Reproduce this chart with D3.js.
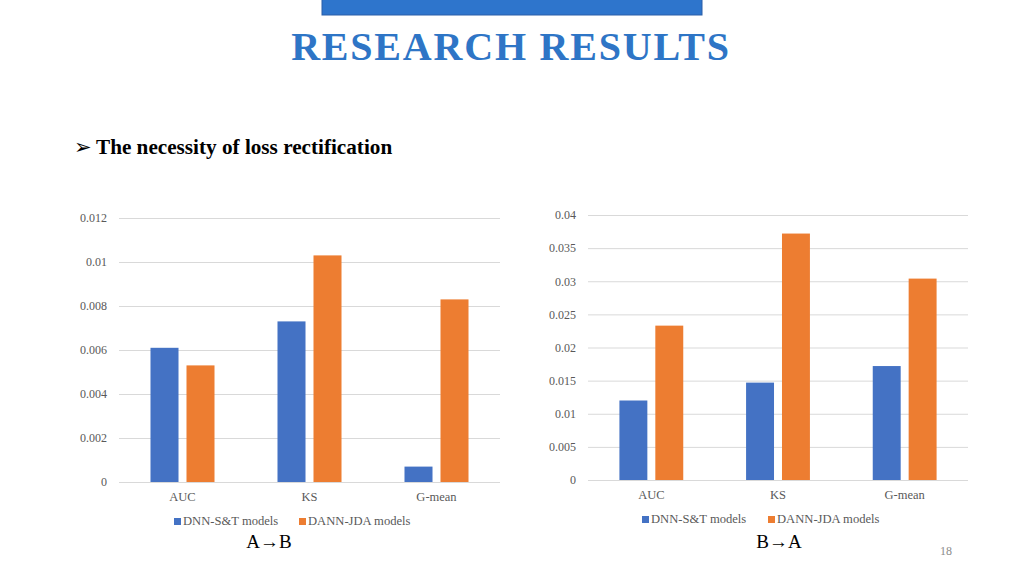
<!DOCTYPE html>
<html>
<head>
<meta charset="utf-8">
<script src="https://cdn.jsdelivr.net/npm/d3@7"></script>
<style>
  html, body { margin: 0; padding: 0; background: #fff; }
  svg { display: block; }
</style>
</head>
<body>
<svg id="slide" width="1024" height="576"></svg>
<script>
// data
var categories = ["AUC", "KS", "G-mean"];
var seriesNames = ["DNN-S&T models", "DANN-JDA models"];
var seriesColors = ["#4472C4", "#ED7D31"];

var abDnn = [0.0061, 0.0073, 0.0007];
var abDann = [0.0053, 0.0103, 0.0083];
var abTicks = [0, 0.002, 0.004, 0.006, 0.008, 0.01, 0.012];

var baDnn = [0.012, 0.0147, 0.0172];
var baDann = [0.0233, 0.0372, 0.0304];
var baTicks = [0, 0.005, 0.01, 0.015, 0.02, 0.025, 0.03, 0.035, 0.04];

var svg = d3.select("#slide");
var serif = "'Liberation Serif', 'Times New Roman', serif";

// header
svg.append("rect").attr("x", 322).attr("y", -1).attr("width", 380).attr("height", 16)
    .attr("fill", "#2E75CC").attr("stroke", "#2a5fa8").attr("stroke-width", 1);
svg.append("text").attr("x", 511).attr("y", 60).attr("text-anchor", "middle")
    .style("font-family", serif).style("font-weight", "bold").style("font-size", "40px")
    .style("letter-spacing", "1.8px").attr("fill", "#2E75C6").text("RESEARCH RESULTS");

svg.append("text").attr("x", 74).attr("y", 154)
    .style("font-family", "'DejaVu Sans', sans-serif").style("font-size", "21px")
    .attr("fill", "#000").text("\u27A2");
svg.append("text").attr("x", 96).attr("y", 154)
    .style("font-family", serif).style("font-weight", "bold").style("font-size", "21.2px")
    .attr("fill", "#000").text("The necessity of loss rectification");

function drawChart(cfg) {
    var g = svg.append("g");
    var y = d3.scaleLinear().domain([0, cfg.max]).range([cfg.y0, cfg.yTop]);
    var x0 = d3.scaleBand().domain(categories).range([cfg.xL, cfg.xR])
        .paddingInner(0.496).paddingOuter(0.248);
    var x1 = d3.scaleBand().domain(seriesNames).range([0, x0.bandwidth()]).paddingInner(0.222);

    // gridlines + tick labels via axis
    var axis = d3.axisLeft(y).tickValues(cfg.ticks).tickSize(-(cfg.xR - cfg.xL))
        .tickFormat(function (d) { return d3.format("~g")(+d.toFixed(4)); }).tickPadding(12);
    var ax = g.append("g").attr("transform", "translate(" + cfg.xL + ",0)").call(axis);
    ax.select(".domain").remove();
    ax.selectAll(".tick line").attr("stroke", "#d9d9d9").attr("stroke-width", 1);
    ax.selectAll(".tick text").attr("fill", "#595959")
        .style("font-family", serif).style("font-size", "12px");

    var rows = categories.map(function (c, i) {
        return { cat: c, vals: [cfg.a[i], cfg.b[i]] };
    });
    var grp = g.selectAll(".cat").data(rows).enter().append("g")
        .attr("transform", function (d) { return "translate(" + x0(d.cat) + ",0)"; });
    grp.selectAll("rect").data(function (d) {
        return d.vals.map(function (v, j) { return { s: seriesNames[j], v: v, c: seriesColors[j] }; });
    }).enter().append("rect")
        .attr("x", function (d) { return x1(d.s); })
        .attr("y", function (d) { return y(d.v); })
        .attr("width", x1.bandwidth())
        .attr("height", function (d) { return cfg.y0 - y(d.v); })
        .attr("fill", function (d) { return d.c; });

    // category labels
    g.selectAll(".catlab").data(categories).enter().append("text")
        .attr("x", function (d) { return x0(d) + x0.bandwidth() / 2; })
        .attr("y", cfg.y0 + 19).attr("text-anchor", "middle")
        .attr("fill", "#595959").style("font-family", serif).style("font-size", "12.5px")
        .text(function (d) { return d; });

    // legend
    var leg = g.selectAll(".leg").data(seriesNames).enter().append("g")
        .attr("transform", function (d, i) { return "translate(" + cfg.legX[i] + "," + cfg.legY + ")"; });
    leg.append("rect").attr("x", 0).attr("y", -7).attr("width", 7).attr("height", 7)
        .attr("fill", function (d, i) { return seriesColors[i]; });
    leg.append("text").attr("x", 9).attr("y", 0)
        .attr("fill", "#595959").style("font-family", serif).style("font-size", "12.6px")
        .text(function (d) { return d; });

    g.append("text").attr("x", cfg.capX).attr("y", cfg.capY).attr("text-anchor", "middle")
        .style("font-family", serif).style("font-size", "19px").attr("fill", "#000")
        .text(cfg.caption);
}

drawChart({ a: abDnn, b: abDann, ticks: abTicks, max: 0.012,
    xL: 119, xR: 500, y0: 482, yTop: 218,
    legX: [174, 299], legY: 525, capX: 269, capY: 548, caption: "A\u2192B" });

drawChart({ a: baDnn, b: baDann, ticks: baTicks, max: 0.04,
    xL: 588, xR: 968, y0: 480, yTop: 215,
    legX: [642, 768], legY: 523, capX: 779, capY: 548, caption: "B\u2192A" });

svg.append("text").attr("x", 946).attr("y", 555).attr("text-anchor", "middle")
    .style("font-family", serif).style("font-size", "12px").attr("fill", "#8c8c8c").text("18");
</script>
</body>
</html>
